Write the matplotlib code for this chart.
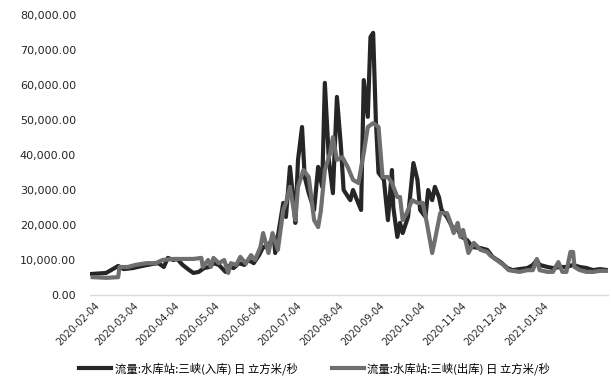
import matplotlib
matplotlib.use("Agg")
import matplotlib.pyplot as plt
import matplotlib.dates as mdates
import matplotlib.ticker as mticker
import pandas as pd

# 三峡 入库流量 (立方米/秒)
in_dates = ['2020-02-02', '2020-02-13', '2020-02-18', '2020-02-22', '2020-02-26', '2020-03-04',
            '2020-03-11', '2020-03-19', '2020-03-23', '2020-03-27', '2020-03-30', '2020-04-03',
            '2020-04-06', '2020-04-10', '2020-04-15', '2020-04-18', '2020-04-22', '2020-04-26',
            '2020-04-30', '2020-05-03', '2020-05-07', '2020-05-12', '2020-05-14', '2020-05-18',
            '2020-05-22', '2020-05-26', '2020-05-29', '2020-06-02', '2020-06-06', '2020-06-09',
            '2020-06-12', '2020-06-17', '2020-06-18', '2020-06-24', '2020-06-26', '2020-06-29',
            '2020-07-01', '2020-07-03', '2020-07-05', '2020-07-08', '2020-07-10', '2020-07-13',
            '2020-07-17', '2020-07-20', '2020-07-23', '2020-07-25', '2020-07-28', '2020-07-31',
            '2020-08-03', '2020-08-06', '2020-08-08', '2020-08-13', '2020-08-15', '2020-08-18',
            '2020-08-21', '2020-08-23', '2020-08-26', '2020-08-28', '2020-08-30', '2020-09-01',
            '2020-09-03', '2020-09-07', '2020-09-10', '2020-09-13', '2020-09-14', '2020-09-17',
            '2020-09-19', '2020-09-21', '2020-09-25', '2020-09-29', '2020-10-02', '2020-10-04',
            '2020-10-08', '2020-10-10', '2020-10-13', '2020-10-15', '2020-10-18', '2020-10-20',
            '2020-10-24', '2020-10-28', '2020-11-01', '2020-11-04', '2020-11-08', '2020-11-12',
            '2020-11-18', '2020-11-23', '2020-11-27', '2020-12-03', '2020-12-08', '2020-12-12',
            '2020-12-17', '2020-12-23', '2020-12-27', '2020-12-30', '2021-01-01', '2021-01-07',
            '2021-01-11', '2021-01-16', '2021-01-21', '2021-01-26', '2021-01-31', '2021-02-05',
            '2021-02-10', '2021-02-15', '2021-02-21']
in_flow = [6000, 6300, 7400, 8300, 7400, 7700,
           8300, 8900, 9100, 8000, 10600, 10000,
           10300, 8600, 7100, 6300, 6600, 7700,
           8000, 9100, 8600, 6600, 8300, 7700,
           9100, 8600, 10000, 9100, 11400, 13700,
           13700, 16600, 12000, 26300, 22300, 36600,
           29100, 20600, 38600, 48000, 33700, 29100,
           24300, 36600, 30900, 60600, 38600, 29100,
           56600, 42300, 30000, 27100, 30000, 27100,
           24300, 61400, 50900, 73700, 74900, 50000,
           34900, 32900, 21400, 35700, 25100, 16600,
           20600, 17700, 22300, 37700, 32900, 24300,
           22300, 30000, 27100, 30900, 28000, 24300,
           22300, 19400, 18600, 16600, 15700, 13700,
           13400, 12900, 10900, 9400, 7700, 7100,
           7400, 7700, 8600, 10000, 8600, 8000,
           7700, 8000, 8000, 8600, 8000, 7700,
           7100, 7400, 7100]

# 三峡 出库流量 (立方米/秒)
out_dates = ['2020-02-03', '2020-02-13', '2020-02-22', '2020-02-23', '2020-02-29', '2020-03-06',
             '2020-03-14', '2020-03-21', '2020-03-26', '2020-04-03', '2020-04-10', '2020-04-18',
             '2020-04-24', '2020-04-25', '2020-04-29', '2020-05-01', '2020-05-03', '2020-05-07',
             '2020-05-11', '2020-05-14', '2020-05-16', '2020-05-20', '2020-05-23', '2020-05-27',
             '2020-05-31', '2020-06-03', '2020-06-07', '2020-06-09', '2020-06-13', '2020-06-16',
             '2020-06-20', '2020-06-24', '2020-06-26', '2020-06-29', '2020-07-03', '2020-07-05',
             '2020-07-09', '2020-07-13', '2020-07-17', '2020-07-20', '2020-07-22', '2020-07-25',
             '2020-07-29', '2020-07-31', '2020-08-03', '2020-08-07', '2020-08-11', '2020-08-15',
             '2020-08-19', '2020-08-23', '2020-08-26', '2020-08-30', '2020-09-03', '2020-09-06',
             '2020-09-10', '2020-09-13', '2020-09-17', '2020-09-19', '2020-09-21', '2020-09-24',
             '2020-09-28', '2020-10-02', '2020-10-06', '2020-10-09', '2020-10-13', '2020-10-15',
             '2020-10-19', '2020-10-24', '2020-10-26', '2020-10-29', '2020-11-01', '2020-11-03',
             '2020-11-05', '2020-11-09', '2020-11-13', '2020-11-18', '2020-11-23', '2020-11-25',
             '2020-11-30', '2020-12-05', '2020-12-09', '2020-12-12', '2020-12-17', '2020-12-23',
             '2020-12-27', '2020-12-30', '2021-01-01', '2021-01-07', '2021-01-11', '2021-01-15',
             '2021-01-18', '2021-01-21', '2021-01-24', '2021-01-26', '2021-01-27', '2021-01-31',
             '2021-02-05', '2021-02-10', '2021-02-15', '2021-02-21']
out_flow = [5100, 4900, 5100, 8000, 8000, 8600,
            9100, 9100, 10000, 10300, 10300, 10300,
            10600, 8000, 10000, 8000, 10600, 9100,
            10000, 6300, 9100, 8600, 10900, 9000,
            11400, 10000, 13700, 17700, 12000, 17700,
            12900, 24300, 26300, 30900, 21400, 30900,
            35700, 33700, 21400, 19400, 24000, 35700,
            40600, 45100, 38600, 39400, 36600, 32900,
            32000, 40600, 48000, 49100, 48000, 33700,
            33700, 32000, 28000, 28000, 21400, 23400,
            27100, 26300, 26300, 20600, 12000, 15700,
            23400, 23400, 21400, 17700, 20600, 16600,
            18600, 12000, 14900, 12900, 12300, 11400,
            10000, 8600, 7100, 6900, 6600, 7100,
            7100, 10300, 7100, 6600, 6600, 9400,
            6600, 6600, 12300, 12300, 8000, 7100,
            6600, 6600, 6900, 6900]

in_label = '流量:水库站:三峡(入库) 日 立方米/秒'
out_label = '流量:水库站:三峡(出库) 日 立方米/秒'
tick_dates = pd.date_range('2020-02-04', '2021-01-04', freq=pd.DateOffset(months=1))

fig = plt.figure(figsize=(6.11, 3.85), dpi=100)
ax = fig.add_axes([90 / 611, 90 / 385, 518 / 611, 280 / 385])

ax.plot(pd.to_datetime(in_dates), in_flow, color='#262626', lw=3.0, label=in_label,
        solid_joinstyle='round')
ax.plot(pd.to_datetime(out_dates), out_flow, color='#6f6f6f', lw=3.0, label=out_label,
        solid_joinstyle='round')

ax.set_ylim(0, 80000)
ax.set_yticks(range(0, 80001, 10000))
ax.yaxis.set_major_formatter(mticker.StrMethodFormatter('{x:,.2f}'))
ax.set_xlim(pd.Timestamp('2020-02-01'), pd.Timestamp('2021-02-21'))
ax.set_xticks(tick_dates)
ax.xaxis.set_major_formatter(mdates.DateFormatter('%Y-%m-%d'))

for s in ['top', 'right', 'left']:
    ax.spines[s].set_visible(False)
ax.spines['bottom'].set_color('#d9d9d9')
ax.spines['bottom'].set_linewidth(1)
ax.tick_params(axis='both', length=0, colors='#262626')
ax.tick_params(axis='y', labelsize=8, pad=10)
ax.tick_params(axis='x', labelsize=7, pad=4)
plt.setp(ax.get_xticklabels(), rotation=45, ha='right', rotation_mode='anchor')

fig.legend(loc='lower center', bbox_to_anchor=(0.515, 0.0), ncol=2, frameon=False,
           prop={'family': ['Noto Sans CJK SC', 'DejaVu Sans'], 'size': 8.2},
           handlelength=2.8, columnspacing=3.0, handletextpad=0.3)

fig.savefig('out.png', dpi=100)
